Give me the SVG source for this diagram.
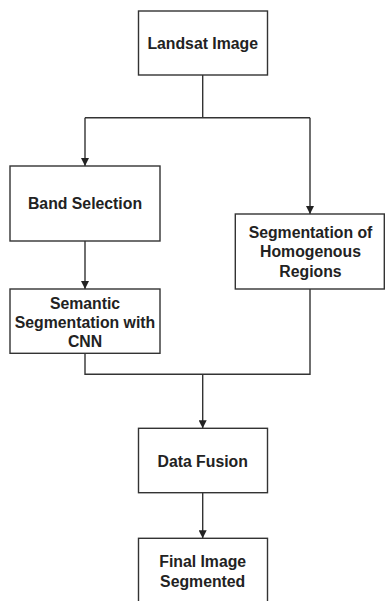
<svg xmlns="http://www.w3.org/2000/svg" width="385" height="601" viewBox="0 0 385 601">
  <style>
    .box { fill: #ffffff; stroke: #333333; stroke-width: 1.4; }
    .lbl { font-family: "Liberation Sans", Arial, sans-serif; font-weight: bold; font-size: 15.8px; fill: #222222; text-anchor: middle; }
    .wire { fill: none; stroke: #333333; stroke-width: 1.4; }
  </style>
  <defs>
    <marker id="arrow" viewBox="0 0 10 10" refX="10" refY="5" markerWidth="8" markerHeight="8" markerUnits="userSpaceOnUse" orient="auto">
      <path d="M0,0 L10,5 L0,10 Z" fill="#222222"/>
    </marker>
  </defs>
  <rect width="385" height="601" fill="#ffffff"/>

  <g id="connectors">
    <path class="wire" d="M202.7,75 V117.7 M85,117.7 H310"/>
    <path class="wire" d="M85,117.7 V166" marker-end="url(#arrow)"/>
    <path class="wire" d="M310,117.7 V214" marker-end="url(#arrow)"/>
    <path class="wire" d="M85,241 V289" marker-end="url(#arrow)"/>
    <path class="wire" d="M85,353.3 V374.3 H310 V289"/>
    <path class="wire" d="M202.7,374.3 V428.3" marker-end="url(#arrow)"/>
    <path class="wire" d="M202.7,492.7 V538.3" marker-end="url(#arrow)"/>
  </g>

  <g id="landsat-image">
    <rect class="box" x="138.5" y="11" width="129" height="64"/>
    <text class="lbl" x="202.7" y="49">Landsat Image</text>
  </g>

  <g id="band-selection">
    <rect class="box" x="10" y="166" width="150" height="75"/>
    <text class="lbl" x="85" y="209">Band Selection</text>
  </g>

  <g id="homogenous-regions">
    <rect class="box" x="235.3" y="214" width="149" height="75"/>
    <text class="lbl" x="310.5" y="238">Segmentation of</text>
    <text class="lbl" x="310.5" y="257">Homogenous</text>
    <text class="lbl" x="310.5" y="276.5">Regions</text>
  </g>

  <g id="semantic-segmentation">
    <rect class="box" x="10" y="289" width="150" height="64.3"/>
    <text class="lbl" x="85" y="308.5">Semantic</text>
    <text class="lbl" x="85" y="327.5">Segmentation with</text>
    <text class="lbl" x="85" y="346.5">CNN</text>
  </g>

  <g id="data-fusion">
    <rect class="box" x="138.5" y="428.3" width="129" height="64.4"/>
    <text class="lbl" x="202.7" y="466.5">Data Fusion</text>
  </g>

  <g id="final-image">
    <rect class="box" x="138.5" y="538.3" width="129" height="70"/>
    <text class="lbl" x="202.7" y="567">Final Image</text>
    <text class="lbl" x="202.7" y="586.5">Segmented</text>
  </g>
</svg>
